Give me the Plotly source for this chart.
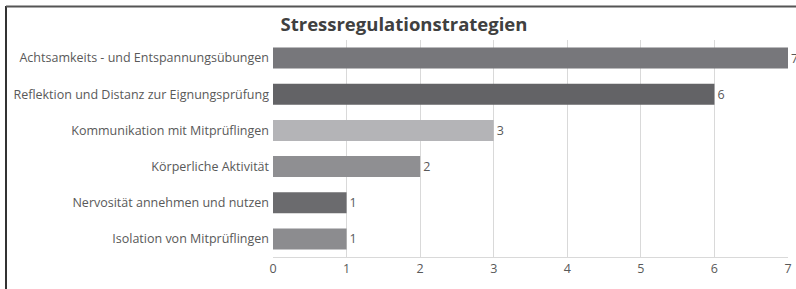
import plotly.graph_objects as go

categories = [
    "Achtsamkeits - und Entspannungsübungen",
    "Reflektion und Distanz zur Eignungsprüfung",
    "Kommunikation mit Mitprüflingen",
    "Körperliche Aktivität",
    "Nervosität annehmen und nutzen",
    "Isolation von Mitprüflingen",
]
values = [7, 6, 3, 2, 1, 1]
bar_colors = ["#77777b", "#636366", "#b4b4b7", "#8f8f92", "#6b6b6e", "#8c8c8f"]
x_ticks = [0, 1, 2, 3, 4, 5, 6, 7]
title_text = "Stressregulationstrategien"

W, H = 796, 289
L, R, T, B = 273, 8, 40, 32
pw, ph = W - L - R, H - T - B

font_family = "Open Sans, Noto Sans, sans-serif"

fig = go.Figure(
    go.Bar(
        x=values,
        y=categories,
        orientation="h",
        marker=dict(color=bar_colors, line=dict(width=0)),
        text=[str(v) for v in values],
        textposition="outside",
        constraintext="none",
        textfont=dict(size=12.5, color="#595959", family=font_family),
        cliponaxis=False,
    )
)

def px_x(p):
    return (p - L) / pw

def px_y(p):
    return 1 - (p - T) / ph

fig.update_layout(
    width=W,
    height=H,
    margin=dict(l=L, r=R, t=T, b=B, autoexpand=False),
    paper_bgcolor="white",
    plot_bgcolor="white",
    bargap=0.42,
    showlegend=False,
    font=dict(family=font_family, color="#595959", size=12.5),
    title=dict(
        text="<b>" + title_text + "</b>",
        x=px_x(404),
        xanchor="center",
        xref="paper",
        y=1 - 24.5 / H,
        yanchor="middle",
        font=dict(size=18.5, color="#404040", family=font_family),
    ),
    xaxis=dict(
        range=[0, 7],
        tickvals=x_ticks,
        showgrid=True,
        gridcolor="#d9d9d9",
        gridwidth=1,
        zeroline=False,
        showline=True,
        linecolor="#d9d9d9",
        linewidth=1,
        tickfont=dict(size=12.5, color="#595959"),
        ticks="",
        automargin=False,
    ),
    yaxis=dict(
        categoryorder="array",
        categoryarray=categories,
        autorange="reversed",
        showgrid=False,
        zeroline=False,
        showline=False,
        tickfont=dict(size=12.5, color="#595959"),
        ticks="",
        ticklabelstandoff=3,
        automargin=False,
    ),
    shapes=[
        dict(type="line", xref="paper", yref="paper",
             x0=px_x(6), x1=px_x(6), y0=px_y(6), y1=px_y(300),
             line=dict(color="#333333", width=2)),
        dict(type="line", xref="paper", yref="paper",
             x0=px_x(6), x1=px_x(800), y0=px_y(6.5), y1=px_y(6.5),
             line=dict(color="#555555", width=2)),
    ],
)

fig.write_html(
    "out.html",
    config={"displayModeBar": False},
    post_script="document.body.style.margin='0';",
)
